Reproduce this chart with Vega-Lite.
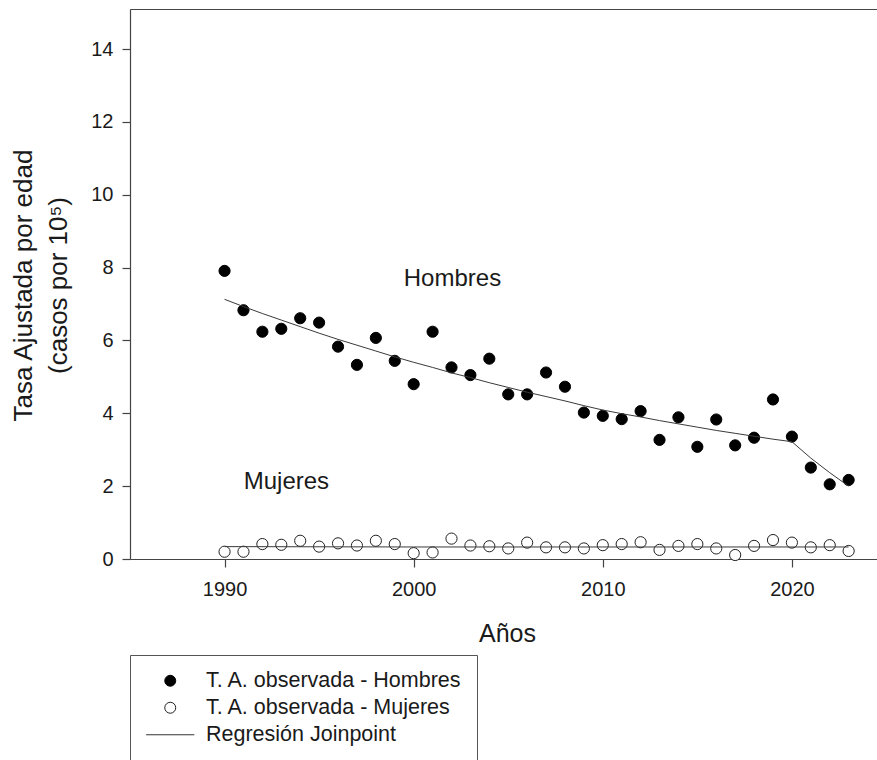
{
  "$schema": "https://vega.github.io/schema/vega-lite/v6.json",
  "width": 747,
  "height": 550,
  "autosize": {"type": "none"},
  "padding": {"left": 130, "top": 9, "right": 0, "bottom": 201},
  "background": "white",
  "config": {
    "view": {"stroke": null},
    "font": "Liberation Sans",
    "axis": {
      "grid": false,
      "domainColor": "#444",
      "tickColor": "#444",
      "domainWidth": 1.2,
      "tickWidth": 1.2,
      "tickSize": 8,
      "labelColor": "#1a1a1a",
      "titleColor": "#1a1a1a",
      "labelFont": "Liberation Sans",
      "titleFont": "Liberation Sans",
      "titleFontWeight": "normal",
      "labelFontSize": 20,
      "titleFontSize": 25
    }
  },
  "datasets": {
    "obs": [
      {"anio": 1990, "tasa": 7.91, "serie": "T. A. observada - Hombres"},
      {"anio": 1991, "tasa": 6.83, "serie": "T. A. observada - Hombres"},
      {"anio": 1992, "tasa": 6.24, "serie": "T. A. observada - Hombres"},
      {"anio": 1993, "tasa": 6.32, "serie": "T. A. observada - Hombres"},
      {"anio": 1994, "tasa": 6.61, "serie": "T. A. observada - Hombres"},
      {"anio": 1995, "tasa": 6.49, "serie": "T. A. observada - Hombres"},
      {"anio": 1996, "tasa": 5.83, "serie": "T. A. observada - Hombres"},
      {"anio": 1997, "tasa": 5.33, "serie": "T. A. observada - Hombres"},
      {"anio": 1998, "tasa": 6.07, "serie": "T. A. observada - Hombres"},
      {"anio": 1999, "tasa": 5.44, "serie": "T. A. observada - Hombres"},
      {"anio": 2000, "tasa": 4.80, "serie": "T. A. observada - Hombres"},
      {"anio": 2001, "tasa": 6.24, "serie": "T. A. observada - Hombres"},
      {"anio": 2002, "tasa": 5.26, "serie": "T. A. observada - Hombres"},
      {"anio": 2003, "tasa": 5.05, "serie": "T. A. observada - Hombres"},
      {"anio": 2004, "tasa": 5.50, "serie": "T. A. observada - Hombres"},
      {"anio": 2005, "tasa": 4.52, "serie": "T. A. observada - Hombres"},
      {"anio": 2006, "tasa": 4.52, "serie": "T. A. observada - Hombres"},
      {"anio": 2007, "tasa": 5.12, "serie": "T. A. observada - Hombres"},
      {"anio": 2008, "tasa": 4.73, "serie": "T. A. observada - Hombres"},
      {"anio": 2009, "tasa": 4.02, "serie": "T. A. observada - Hombres"},
      {"anio": 2010, "tasa": 3.93, "serie": "T. A. observada - Hombres"},
      {"anio": 2011, "tasa": 3.84, "serie": "T. A. observada - Hombres"},
      {"anio": 2012, "tasa": 4.06, "serie": "T. A. observada - Hombres"},
      {"anio": 2013, "tasa": 3.27, "serie": "T. A. observada - Hombres"},
      {"anio": 2014, "tasa": 3.89, "serie": "T. A. observada - Hombres"},
      {"anio": 2015, "tasa": 3.08, "serie": "T. A. observada - Hombres"},
      {"anio": 2016, "tasa": 3.83, "serie": "T. A. observada - Hombres"},
      {"anio": 2017, "tasa": 3.12, "serie": "T. A. observada - Hombres"},
      {"anio": 2018, "tasa": 3.33, "serie": "T. A. observada - Hombres"},
      {"anio": 2019, "tasa": 4.38, "serie": "T. A. observada - Hombres"},
      {"anio": 2020, "tasa": 3.36, "serie": "T. A. observada - Hombres"},
      {"anio": 2021, "tasa": 2.51, "serie": "T. A. observada - Hombres"},
      {"anio": 2022, "tasa": 2.05, "serie": "T. A. observada - Hombres"},
      {"anio": 2023, "tasa": 2.17, "serie": "T. A. observada - Hombres"},
      {"anio": 1990, "tasa": 0.20, "serie": "T. A. observada - Mujeres"},
      {"anio": 1991, "tasa": 0.20, "serie": "T. A. observada - Mujeres"},
      {"anio": 1992, "tasa": 0.41, "serie": "T. A. observada - Mujeres"},
      {"anio": 1993, "tasa": 0.39, "serie": "T. A. observada - Mujeres"},
      {"anio": 1994, "tasa": 0.50, "serie": "T. A. observada - Mujeres"},
      {"anio": 1995, "tasa": 0.34, "serie": "T. A. observada - Mujeres"},
      {"anio": 1996, "tasa": 0.43, "serie": "T. A. observada - Mujeres"},
      {"anio": 1997, "tasa": 0.37, "serie": "T. A. observada - Mujeres"},
      {"anio": 1998, "tasa": 0.50, "serie": "T. A. observada - Mujeres"},
      {"anio": 1999, "tasa": 0.41, "serie": "T. A. observada - Mujeres"},
      {"anio": 2000, "tasa": 0.16, "serie": "T. A. observada - Mujeres"},
      {"anio": 2001, "tasa": 0.18, "serie": "T. A. observada - Mujeres"},
      {"anio": 2002, "tasa": 0.56, "serie": "T. A. observada - Mujeres"},
      {"anio": 2003, "tasa": 0.37, "serie": "T. A. observada - Mujeres"},
      {"anio": 2004, "tasa": 0.35, "serie": "T. A. observada - Mujeres"},
      {"anio": 2005, "tasa": 0.29, "serie": "T. A. observada - Mujeres"},
      {"anio": 2006, "tasa": 0.45, "serie": "T. A. observada - Mujeres"},
      {"anio": 2007, "tasa": 0.32, "serie": "T. A. observada - Mujeres"},
      {"anio": 2008, "tasa": 0.32, "serie": "T. A. observada - Mujeres"},
      {"anio": 2009, "tasa": 0.29, "serie": "T. A. observada - Mujeres"},
      {"anio": 2010, "tasa": 0.38, "serie": "T. A. observada - Mujeres"},
      {"anio": 2011, "tasa": 0.41, "serie": "T. A. observada - Mujeres"},
      {"anio": 2012, "tasa": 0.46, "serie": "T. A. observada - Mujeres"},
      {"anio": 2013, "tasa": 0.25, "serie": "T. A. observada - Mujeres"},
      {"anio": 2014, "tasa": 0.36, "serie": "T. A. observada - Mujeres"},
      {"anio": 2015, "tasa": 0.41, "serie": "T. A. observada - Mujeres"},
      {"anio": 2016, "tasa": 0.29, "serie": "T. A. observada - Mujeres"},
      {"anio": 2017, "tasa": 0.11, "serie": "T. A. observada - Mujeres"},
      {"anio": 2018, "tasa": 0.36, "serie": "T. A. observada - Mujeres"},
      {"anio": 2019, "tasa": 0.52, "serie": "T. A. observada - Mujeres"},
      {"anio": 2020, "tasa": 0.45, "serie": "T. A. observada - Mujeres"},
      {"anio": 2021, "tasa": 0.32, "serie": "T. A. observada - Mujeres"},
      {"anio": 2022, "tasa": 0.38, "serie": "T. A. observada - Mujeres"},
      {"anio": 2023, "tasa": 0.22, "serie": "T. A. observada - Mujeres"}
    ],
    "reg": [
      {"anio": 1990, "tasa": 7.13, "sexo": "Hombres"},
      {"anio": 1991, "tasa": 6.93, "sexo": "Hombres"},
      {"anio": 1992, "tasa": 6.74, "sexo": "Hombres"},
      {"anio": 1993, "tasa": 6.56, "sexo": "Hombres"},
      {"anio": 1994, "tasa": 6.38, "sexo": "Hombres"},
      {"anio": 1995, "tasa": 6.20, "sexo": "Hombres"},
      {"anio": 1996, "tasa": 6.03, "sexo": "Hombres"},
      {"anio": 1997, "tasa": 5.87, "sexo": "Hombres"},
      {"anio": 1998, "tasa": 5.71, "sexo": "Hombres"},
      {"anio": 1999, "tasa": 5.55, "sexo": "Hombres"},
      {"anio": 2000, "tasa": 5.40, "sexo": "Hombres"},
      {"anio": 2001, "tasa": 5.26, "sexo": "Hombres"},
      {"anio": 2002, "tasa": 5.11, "sexo": "Hombres"},
      {"anio": 2003, "tasa": 4.98, "sexo": "Hombres"},
      {"anio": 2004, "tasa": 4.84, "sexo": "Hombres"},
      {"anio": 2005, "tasa": 4.71, "sexo": "Hombres"},
      {"anio": 2006, "tasa": 4.58, "sexo": "Hombres"},
      {"anio": 2007, "tasa": 4.46, "sexo": "Hombres"},
      {"anio": 2008, "tasa": 4.34, "sexo": "Hombres"},
      {"anio": 2009, "tasa": 4.21, "sexo": "Hombres"},
      {"anio": 2010, "tasa": 4.09, "sexo": "Hombres"},
      {"anio": 2011, "tasa": 3.99, "sexo": "Hombres"},
      {"anio": 2012, "tasa": 3.90, "sexo": "Hombres"},
      {"anio": 2013, "tasa": 3.80, "sexo": "Hombres"},
      {"anio": 2014, "tasa": 3.71, "sexo": "Hombres"},
      {"anio": 2015, "tasa": 3.62, "sexo": "Hombres"},
      {"anio": 2016, "tasa": 3.53, "sexo": "Hombres"},
      {"anio": 2017, "tasa": 3.45, "sexo": "Hombres"},
      {"anio": 2018, "tasa": 3.37, "sexo": "Hombres"},
      {"anio": 2019, "tasa": 3.29, "sexo": "Hombres"},
      {"anio": 2020, "tasa": 3.22, "sexo": "Hombres"},
      {"anio": 2021, "tasa": 2.77, "sexo": "Hombres"},
      {"anio": 2022, "tasa": 2.37, "sexo": "Hombres"},
      {"anio": 2023, "tasa": 2.00, "sexo": "Hombres"},
      {"anio": 1990, "tasa": 0.34, "sexo": "Mujeres"},
      {"anio": 2000, "tasa": 0.33, "sexo": "Mujeres"},
      {"anio": 2010, "tasa": 0.33, "sexo": "Mujeres"},
      {"anio": 2023, "tasa": 0.33, "sexo": "Mujeres"}
    ],
    "etiquetas": [
      {"anio": 2002.05, "tasa": 7.5, "texto": "Hombres"},
      {"anio": 1993.27, "tasa": 1.91, "texto": "Mujeres"}
    ]
  },
  "layer": [
    {
      "data": {"name": "obs"},
      "mark": {"type": "point", "opacity": 1, "strokeWidth": 1, "size": 125},
      "encoding": {
        "x": {
          "field": "anio", "type": "quantitative",
          "scale": {"domain": [1985, 2024.5], "nice": false, "zero": false},
          "axis": {
            "values": [1990, 2000, 2010, 2020], "format": "d",
            "title": "Años", "labelPadding": 12,
            "titleX": 377, "titleY": 82, "titleBaseline": "alphabetic"
          }
        },
        "y": {
          "field": "tasa", "type": "quantitative",
          "scale": {"domain": [0, 15.1], "nice": false},
          "axis": {
            "values": [0, 2, 4, 6, 8, 10, 12, 14],
            "title": ["Tasa Ajustada por edad", "(casos por 10⁵)"],
            "labelPadding": 9,
            "titleFontSize": 26,
            "titleAngle": -90, "titleX": -98.5, "titleY": 276,
            "titleBaseline": "alphabetic", "titleAlign": "center",
            "titleLineHeight": 34.5
          }
        },
        "shape": {
          "field": "serie", "type": "nominal",
          "scale": {
            "domain": ["T. A. observada - Hombres", "T. A. observada - Mujeres", "Regresión Joinpoint"],
            "range": ["circle", "circle", "M-4.4,0H4.4"]
          },
          "legend": {
            "title": null, "orient": "none", "legendX": 0, "legendY": 646,
            "strokeColor": "#555", "fillColor": "white", "padding": 15,
            "labelFont": "Liberation Sans", "labelFontSize": 21.5, "labelColor": "#1a1a1a",
            "labelLimit": 400, "symbolSize": 120, "symbolStrokeWidth": 1,
            "rowPadding": 4, "labelOffset": 25, "symbolOffset": 14.5, "symbolOpacity": 1
          }
        },
        "fill": {
          "field": "serie", "type": "nominal",
          "scale": {
            "domain": ["T. A. observada - Hombres", "T. A. observada - Mujeres", "Regresión Joinpoint"],
            "range": ["#000000", "#ffffff", "transparent"]
          }
        },
        "stroke": {
          "field": "serie", "type": "nominal",
          "scale": {
            "domain": ["T. A. observada - Hombres", "T. A. observada - Mujeres", "Regresión Joinpoint"],
            "range": ["#000000", "#222222", "#333333"]
          }
        }
      }
    },
    {
      "data": {"name": "reg"},
      "mark": {"type": "line", "color": "#3a3a3a", "strokeWidth": 1},
      "encoding": {
        "x": {
          "field": "anio", "type": "quantitative",
          "axis": {"orient": "top", "labels": false, "ticks": false, "title": null, "domain": true}
        },
        "y": {"field": "tasa", "type": "quantitative"},
        "detail": {"field": "sexo"}
      }
    },
    {
      "data": {"name": "etiquetas"},
      "mark": {"type": "text", "font": "Liberation Sans", "fontSize": 24, "color": "#1a1a1a", "align": "center", "baseline": "alphabetic"},
      "encoding": {
        "x": {"field": "anio", "type": "quantitative", "axis": null},
        "y": {"field": "tasa", "type": "quantitative"},
        "text": {"field": "texto"}
      }
    }
  ],
  "resolve": {"axis": {"x": "independent"}}
}
